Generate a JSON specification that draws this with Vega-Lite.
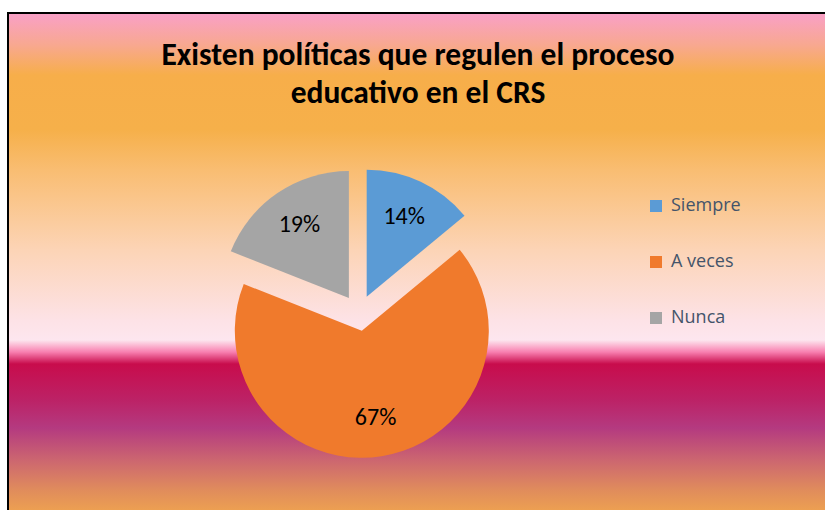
{
  "$schema": "https://vega.github.io/schema/vega-lite/v6.json",
  "width": 820,
  "height": 500,
  "autosize": "none",
  "padding": {"left": 8, "top": 13, "right": 0, "bottom": 0},
  "background": "white",
  "view": {
    "stroke": "black",
    "strokeWidth": 2,
    "fill": {
      "gradient": "linear",
      "x1": 0, "y1": 0, "x2": 0, "y2": 1,
      "stops": [
        {"offset": 0, "color": "#f9a0c8"},
        {"offset": 0.064, "color": "#f8a890"},
        {"offset": 0.124, "color": "#f7ae4a"},
        {"offset": 0.234, "color": "#f6b04a"},
        {"offset": 0.314, "color": "#f9bd72"},
        {"offset": 0.474, "color": "#fcd4b6"},
        {"offset": 0.614, "color": "#fde2e6"},
        {"offset": 0.654, "color": "#fde6ef"},
        {"offset": 0.678, "color": "#f880b0"},
        {"offset": 0.702, "color": "#c80c4c"},
        {"offset": 0.774, "color": "#bc2266"},
        {"offset": 0.83, "color": "#b43a80"},
        {"offset": 0.894, "color": "#cc6670"},
        {"offset": 0.954, "color": "#e08c5c"},
        {"offset": 1, "color": "#eea250"}
      ]
    }
  },
  "title": {
    "text": ["Existen políticas que regulen el proceso", "educativo en el CRS"],
    "font": "Carlito, Calibri, 'Open Sans'",
    "fontSize": 31.5,
    "fontWeight": "bold",
    "color": "black",
    "anchor": "middle",
    "frame": "group",
    "baseline": "top",
    "offset": -96,
    "lineHeight": 38
  },
  "data": {
    "values": [
      {"respuesta": "Siempre", "porcentaje": 14},
      {"respuesta": "A veces", "porcentaje": 67},
      {"respuesta": "Nunca", "porcentaje": 19}
    ]
  },
  "transform": [
    {"window": [{"op": "sum", "field": "porcentaje", "as": "fin"}], "frame": [null, 0]},
    {"joinaggregate": [{"op": "sum", "field": "porcentaje", "as": "total"}]},
    {"calculate": "datum.fin - datum.porcentaje", "as": "inicio"},
    {"calculate": "datum.fin - datum.porcentaje / 2", "as": "medio"},
    {"calculate": "18 * sin(2 * PI * datum.medio / datum.total)", "as": "dx"},
    {"calculate": "-18 * cos(2 * PI * datum.medio / datum.total)", "as": "dy"},
    {"calculate": "datum.porcentaje / datum.total", "as": "fraccion"}
  ],
  "layer": [
    {
      "mark": {"type": "arc", "outerRadius": 127, "x": 351, "y": 300},
      "encoding": {
        "theta": {"field": "inicio", "type": "quantitative", "stack": null, "scale": {"domain": [0, 100], "range": [0, 6.283185307]}},
        "theta2": {"field": "fin"},
        "xOffset": {"field": "dx", "type": "quantitative", "scale": null},
        "yOffset": {"field": "dy", "type": "quantitative", "scale": null},
        "color": {
          "field": "respuesta",
          "type": "nominal",
          "sort": null,
          "scale": {"domain": ["Siempre", "A veces", "Nunca"], "range": ["#5b9bd5", "#f07a2c", "#a5a5a5"]},
          "legend": {
            "title": null,
            "orient": "none",
            "legendX": 639,
            "legendY": 184,
            "padding": 0,
            "symbolType": "square",
            "symbolSize": 144,
            "symbolStrokeWidth": 0,
            "labelFont": "Open Sans",
            "labelFontSize": 18,
            "labelColor": "#44546a",
            "labelOffset": 6,
            "rowPadding": 38
          }
        }
      }
    },
    {
      "mark": {"type": "text", "radius": 88, "x": 351, "y": 300, "fontSize": 24, "font": "Carlito, Calibri, 'Open Sans'", "color": "black"},
      "encoding": {
        "theta": {"field": "medio", "type": "quantitative", "stack": null, "scale": {"domain": [0, 100], "range": [0, 6.283185307]}},
        "xOffset": {"field": "dx", "type": "quantitative", "scale": null},
        "yOffset": {"field": "dy", "type": "quantitative", "scale": null},
        "text": {"field": "fraccion", "type": "quantitative", "format": ".0%"}
      }
    }
  ]
}
